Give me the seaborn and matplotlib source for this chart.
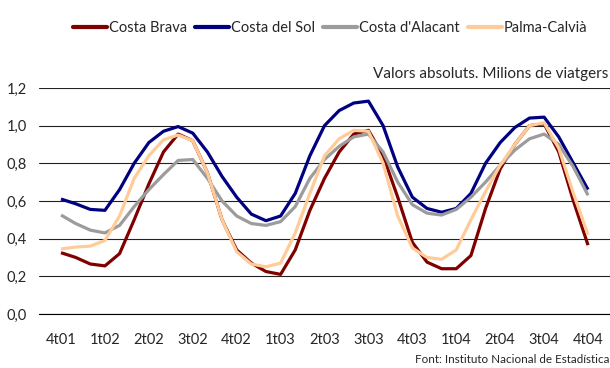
import numpy as np
import pandas as pd
import seaborn as sns
import matplotlib.pyplot as plt
from matplotlib.ticker import FuncFormatter

QUARTERS = ["4t01", "1t02", "2t02", "3t02", "4t02", "1t03", "2t03", "3t03",
            "4t03", "1t04", "2t04", "3t04", "4t04"]

# monthly values (millions of travellers), Oct 2001 .. Oct 2004
COSTA_BRAVA = [0.325, 0.30, 0.265, 0.255, 0.32, 0.50, 0.69, 0.86, 0.955, 0.92, 0.75, 0.50,
               0.34, 0.27, 0.225, 0.21, 0.34, 0.55, 0.72, 0.86, 0.955, 0.975, 0.84, 0.62,
               0.38, 0.275, 0.24, 0.24, 0.31, 0.56, 0.77, 0.90, 1.0, 1.01, 0.86, 0.60, 0.365]
COSTA_DEL_SOL = [0.61, 0.585, 0.555, 0.55, 0.66, 0.80, 0.91, 0.97, 0.995, 0.96, 0.86, 0.73,
                 0.62, 0.53, 0.495, 0.52, 0.64, 0.84, 1.0, 1.08, 1.12, 1.13, 1.0, 0.78,
                 0.62, 0.56, 0.54, 0.56, 0.64, 0.80, 0.91, 0.99, 1.04, 1.045, 0.94, 0.80, 0.66]
COSTA_ALACANT = [0.525, 0.48, 0.445, 0.43, 0.47, 0.57, 0.66, 0.74, 0.815, 0.82, 0.72, 0.60,
                 0.52, 0.48, 0.47, 0.49, 0.57, 0.72, 0.82, 0.89, 0.94, 0.955, 0.86, 0.70,
                 0.58, 0.535, 0.525, 0.555, 0.62, 0.70, 0.79, 0.87, 0.93, 0.955, 0.90, 0.78, 0.63]
PALMA_CALVIA = [0.345, 0.355, 0.36, 0.39, 0.52, 0.72, 0.84, 0.925, 0.95, 0.92, 0.75, 0.50,
                0.33, 0.265, 0.25, 0.27, 0.43, 0.64, 0.84, 0.93, 0.975, 0.97, 0.80, 0.52,
                0.35, 0.30, 0.29, 0.34, 0.50, 0.65, 0.79, 0.90, 1.0, 1.015, 0.88, 0.64, 0.42]

SERIES = {
    "Costa Brava": COSTA_BRAVA,
    "Costa del Sol": COSTA_DEL_SOL,
    "Costa d'Alacant": COSTA_ALACANT,
    "Palma-Calvià": PALMA_CALVIA,
}
COLORS = {
    "Costa Brava": "#800000",
    "Costa del Sol": "#000080",
    "Costa d'Alacant": "#9c9c9c",
    "Palma-Calvià": "#ffcc99",
}

rows = []
for name, values in SERIES.items():
    for m, v in enumerate(values):
        rows.append({"pos": m / 3.0, "value": v, "zona": name})
data = pd.DataFrame(rows)

sns.set_style("white")
plt.rcParams["font.family"] = ["Lato", "DejaVu Sans"]

fig = plt.figure(figsize=(6.1, 3.68), dpi=100)
ax = fig.add_axes([0.064, 0.147, 0.936, 0.614])

sns.lineplot(data=data, x="pos", y="value", hue="zona", palette=COLORS,
             linewidth=2.3, ax=ax, legend=False)
for line in ax.get_lines():
    line.set_solid_joinstyle("round")
    line.set_solid_capstyle("butt")

ax.set_xlim(-0.5, 12.5)
ax.set_ylim(0, 1.2)
ax.set_yticks(np.arange(0, 1.21, 0.2))
ax.yaxis.set_major_formatter(FuncFormatter(lambda v, p: f"{v:.1f}".replace(".", ",")))
ax.tick_params(axis="y", length=0, pad=9, labelsize=10.5)
ax.yaxis.grid(True, color="#222222", linewidth=0.8)
ax.set_axisbelow(True)

ax.set_xticks(np.arange(-0.5, 12.6, 1.0))
ax.set_xticklabels([])
ax.set_xticks(np.arange(0, 13), minor=True)
ax.set_xticklabels(QUARTERS, minor=True)
ax.tick_params(axis="x", which="major", direction="inout", length=7, width=0.8, color="black")
ax.tick_params(axis="x", which="minor", length=0, pad=14, labelsize=10.5)

for side in ["top", "right", "left"]:
    ax.spines[side].set_visible(False)
ax.spines["bottom"].set_color("black")
ax.spines["bottom"].set_linewidth(0.8)
ax.set_xlabel("")
ax.set_ylabel("")

handles = [plt.Line2D([], [], color=COLORS[n], linewidth=3) for n in SERIES]
fig.legend(handles, list(SERIES.keys()), loc="center", bbox_to_anchor=(0.541, 0.924),
           ncol=4, frameon=False, fontsize=10.5, handlelength=2.33, handletextpad=0.14,
           columnspacing=0.55)

fig.text(0.997, 0.80, "Valors absoluts. Milions de viatgers", ha="right", va="center",
         fontsize=11)
fig.text(0.999, 0.022, "Font: Instituto Nacional de Estadística", ha="right", va="center",
         fontsize=8.4)

fig.savefig("out.png", dpi=100)
